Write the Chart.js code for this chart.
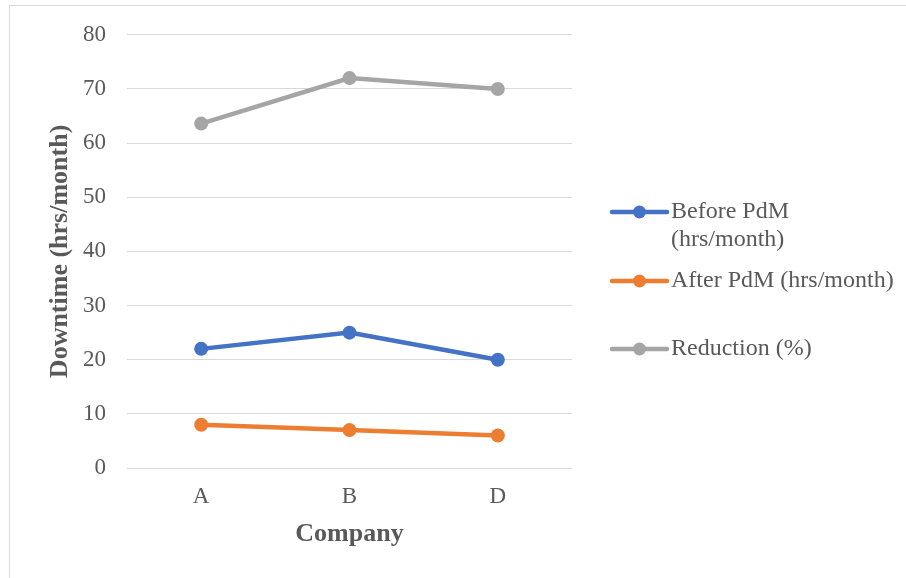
<!DOCTYPE html>
<html>
<head>
<meta charset="utf-8">
<script src="https://cdn.jsdelivr.net/npm/chart.js@4/dist/chart.umd.min.js"></script>
<style>
  html, body { margin: 0; padding: 0; background: #ffffff; overflow: hidden; }
  #frame { position: absolute; left: 9px; top: 5px; width: 1200px; height: 1200px; border: 1px solid #d9d9d9; }
  #wrap { position: absolute; left: 0; top: 0; width: 906px; height: 578px; }
</style>
</head>
<body>
<div id="frame"></div>
<div id="wrap"><canvas id="chart" width="906" height="578"></canvas></div>
<script>
// Monthly downtime per company, before and after predictive maintenance
const companies = ['A', 'B', 'D'];
const beforePdM = [22, 25, 20];
const afterPdM = [8, 7, 6];
const reductionPct = [63.6, 72, 70];
const seriesLabels = [['Before PdM', '(hrs/month)'], ['After PdM (hrs/month)'], ['Reduction (%)']];
const seriesColors = ['#4472C4', '#ED7D31', '#A5A5A5'];
const yTicks = [0, 10, 20, 30, 40, 50, 60, 70, 80];

const FONT = "'Liberation Serif', 'Times New Roman', serif";
const TEXT = '#595959';

// Legend drawn at the right of the plot, one row per series
const sideLegend = {
  id: 'sideLegend',
  afterDraw(chart, args, opts) {
    const ctx = chart.ctx;
    ctx.save();
    chart.data.datasets.forEach((ds, i) => {
      const y = opts.rows[i];
      ctx.strokeStyle = ds.borderColor;
      ctx.lineWidth = 4.5;
      ctx.lineCap = 'round';
      ctx.beginPath();
      ctx.moveTo(opts.lineStart, y);
      ctx.lineTo(opts.lineEnd, y);
      ctx.stroke();
      ctx.fillStyle = ds.backgroundColor;
      ctx.beginPath();
      ctx.arc((opts.lineStart + opts.lineEnd) / 2, y, 6.5, 0, Math.PI * 2);
      ctx.fill();
      ctx.fillStyle = TEXT;
      ctx.font = '24px ' + FONT;
      ctx.textBaseline = 'middle';
      ctx.textAlign = 'left';
      ds.legendText.forEach((line, k) => {
        ctx.fillText(line, opts.textX, y + k * opts.lineGap);
      });
    });
    ctx.restore();
  }
};

const makeSet = (i, values) => ({
  label: seriesLabels[i].join(' '),
  legendText: seriesLabels[i],
  data: values,
  borderColor: seriesColors[i],
  backgroundColor: seriesColors[i],
  borderWidth: 4.5,
  pointRadius: 7,
  pointHoverRadius: 7,
  pointBorderWidth: 0,
  tension: 0,
  fill: false
});

new Chart(document.getElementById('chart'), {
  type: 'line',
  data: {
    labels: companies,
    datasets: [makeSet(0, beforePdM), makeSet(1, afterPdM), makeSet(2, reductionPct)]
  },
  options: {
    responsive: false,
    animation: false,
    devicePixelRatio: 1,
    layout: { padding: { top: 34, left: 40, right: 334, bottom: 0 } },
    plugins: {
      legend: { display: false },
      tooltip: { enabled: false },
      sideLegend: { rows: [212, 281, 349], lineGap: 28, lineStart: 612, lineEnd: 667, textX: 671 }
    },
    scales: {
      x: {
        offset: true,
        grid: { display: false, drawTicks: false },
        border: { display: false },
        ticks: { color: TEXT, font: { family: FONT, size: 23 }, padding: 15 },
        title: {
          display: true, text: 'Company', color: TEXT,
          font: { family: FONT, size: 26, weight: 'bold' },
          padding: { top: 0, bottom: 28 }
        },
        afterFit: (s) => { s.height = 110; }
      },
      y: {
        min: 0, max: 80,
        afterBuildTicks: (s) => { s.ticks = yTicks.map(v => ({ value: v })); },
        grid: { color: '#d9d9d9', lineWidth: 1, drawTicks: false },
        border: { display: false },
        ticks: { color: TEXT, font: { family: FONT, size: 23 }, padding: 21 },
        title: {
          display: true, text: 'Downtime (hrs/month)', color: TEXT,
          font: { family: FONT, size: 26, weight: 'bold' },
          padding: { top: 5, bottom: 0 }
        },
        afterFit: (s) => { s.width = 87; }
      }
    }
  },
  plugins: [sideLegend]
});
</script>
</body>
</html>
